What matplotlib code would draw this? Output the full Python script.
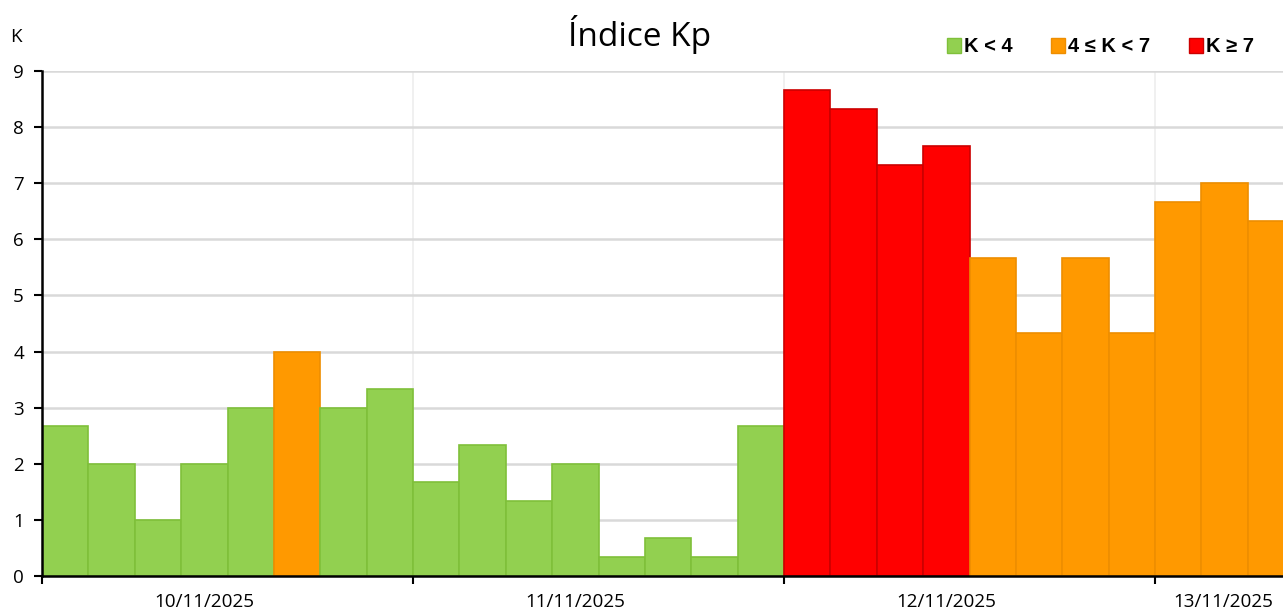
import matplotlib.pyplot as plt
from matplotlib.patches import Patch

# Índice Kp, valores de 3 horas
days = ['10/11/2025', '11/11/2025', '12/11/2025', '13/11/2025']
kp = [2.67, 2.0, 1.0, 2.0, 3.0, 4.0, 3.0, 3.33,
      1.67, 2.33, 1.33, 2.0, 0.33, 0.67, 0.33, 2.67,
      8.67, 8.33, 7.33, 7.67, 5.67, 4.33, 5.67, 4.33,
      6.67, 7.0, 6.33]
legend_labels = ['K < 4', '4 ≤ K < 7', 'K ≥ 7']

fill = ['#92D050', '#FF9900', '#FF0000']
edge = ['#7FC03A', '#EE8E00', '#CC0000']


def level(k):
    # el 7 (7o) sale naranja en el original
    if k < 4:
        return 0
    if k <= 7:
        return 1
    return 2


fig = plt.figure(figsize=(12.83, 6.12), dpi=100)
ax = fig.add_axes([42 / 1283, 1 - 576 / 612, 1 - 42 / 1283, (576 - 71) / 612])

x = list(range(len(kp)))
lv = [level(k) for k in kp]
ax.bar(x, kp, width=1, align='edge',
       color=[fill[i] for i in lv], edgecolor=[edge[i] for i in lv], linewidth=1.2, zorder=2)

xmax = 1241 / 46.375
ax.set_xlim(0, xmax)
ax.set_ylim(0, 9)
ax.set_yticks(range(10))
ax.grid(axis='y', color='#D9D9D9', linewidth=1.8, zorder=0)
for d in range(1, 4):
    ax.axvline(d * 8, color='#EDEDED', linewidth=1.2, zorder=0)

ax.set_xticks([0, 8, 16, 24])
ax.set_xticklabels([])
ax.tick_params(axis='x', length=6, width=1.5, direction='out')
ax.tick_params(axis='y', length=6, width=1.5, direction='out', labelsize=13.5, pad=7)
for lab in ax.get_yticklabels():
    lab.set_fontfamily('Open Sans')

for i, d in enumerate(days):
    pos = i * 8 + 3.5
    if pos + 1.1 > xmax:
        ax.text(xmax - 0.22, -0.3, d, ha='right', va='top', fontsize=13.6, family='Open Sans')
    else:
        ax.text(pos, -0.3, d, ha='center', va='top', fontsize=13.6, family='Open Sans')

for s in ['top', 'right']:
    ax.spines[s].set_visible(False)
ax.spines['left'].set_linewidth(1.8)
ax.spines['bottom'].set_linewidth(1.8)

fig.text(640 / 1283, 1 - 35 / 612, 'Índice Kp', ha='center', va='center', fontsize=24, family='Open Sans')
fig.text(16 / 1283, 1 - 37 / 612, 'K', ha='center', va='center', fontsize=13.5, family='Open Sans')

handles = [Patch(facecolor=fill[i], edgecolor=edge[i]) for i in range(3)]
fig.legend(handles, legend_labels, loc='center right', bbox_to_anchor=(1272 / 1283, 1 - 47 / 612),
           ncol=3, frameon=False, handlelength=0.7, handleheight=0.7, handletextpad=0.15,
           columnspacing=1.9, prop={'family': 'Liberation Sans', 'weight': 'bold', 'size': 14.5})

fig.savefig('out.png', dpi=100)
